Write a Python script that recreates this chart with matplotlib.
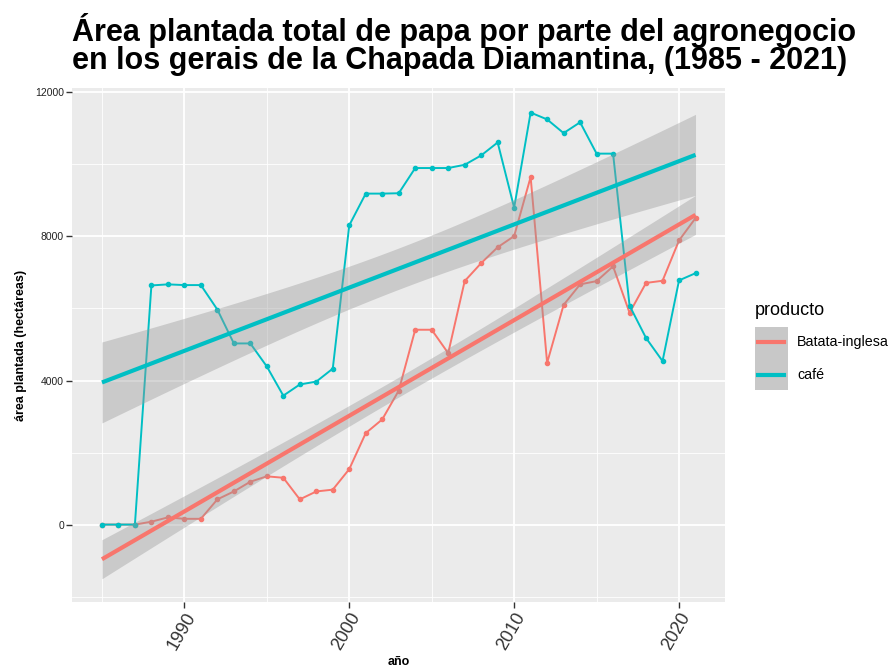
import numpy as np
import matplotlib
matplotlib.use("Agg")
import matplotlib.pyplot as plt
from matplotlib.ticker import MultipleLocator

plt.rcParams["font.family"] = ["Liberation Sans", "DejaVu Sans"]

years = list(range(1985, 2022))

batata = [0, 0, 0, 80, 200, 160, 160, 700, 920, 1190,
          1340, 1300, 700, 920, 970, 1540, 2540, 2920, 3720, 5410,
          5410, 4760, 6760, 7260, 7700, 8010, 9650, 4490, 6100, 6670,
          6760, 7170, 5880, 6710, 6770, 7890, 8510]

cafe = [0, 0, 0, 6640, 6670, 6650, 6650, 5970, 5030, 5030,
        4390, 3580, 3890, 3970, 4330, 8310, 9190, 9190, 9200, 9900,
        9900, 9900, 9990, 10250, 10610, 8800, 11440, 11250, 10870, 11170,
        10300, 10300, 6080, 5180, 4540, 6780, 6980]

series = [("Batata-inglesa", batata, "#F8766D"), ("café", cafe, "#00BFC4")]

fig = plt.figure(figsize=(8.92, 6.70), dpi=100)
ax = fig.add_axes([0.081, 0.102, 0.732, 0.766])
ax.set_facecolor("#EBEBEB")

x = np.array(years, dtype=float)
xs = np.linspace(x.min(), x.max(), 80)
t_crit = 1.306  # t quantile for an 80% band, df = 35

for name, vals, col in series:
    ax.plot(years, vals, color=col, lw=1.4, marker="o", ms=3, zorder=3)

# lm smooth with confidence band (like geom_smooth(method = "lm"))
for name, vals, col in series:
    y = np.array(vals, dtype=float)
    b, a = np.polyfit(x, y, 1)
    res = y - (a + b * x)
    n = len(x)
    s = np.sqrt(np.sum(res ** 2) / (n - 2))
    se = s * np.sqrt(1 / n + (xs - x.mean()) ** 2 / np.sum((x - x.mean()) ** 2))
    yhat = a + b * xs
    ax.fill_between(xs, yhat - t_crit * se, yhat + t_crit * se,
                    color="#999999", alpha=0.4, lw=0, zorder=4)
    ax.plot(xs, yhat, color=col, lw=3, zorder=5, solid_capstyle="butt")

ax.set_xlim(1983.2, 2022.8)
ax.set_ylim(-2140, 12110)
ax.xaxis.set_major_locator(MultipleLocator(10))
ax.xaxis.set_minor_locator(MultipleLocator(5))
ax.yaxis.set_major_locator(MultipleLocator(4000))
ax.yaxis.set_minor_locator(MultipleLocator(2000))
ax.grid(which="major", color="white", lw=1.3, zorder=0)
ax.grid(which="minor", color="white", lw=0.6, zorder=0)
ax.set_axisbelow(True)
for sp in ax.spines.values():
    sp.set_visible(False)

ax.tick_params(which="major", length=4, width=1, color="#333333")
ax.tick_params(which="minor", length=0)
ax.tick_params(axis="y", labelsize=7.5, labelcolor="#222222", pad=2)
ax.tick_params(axis="x", labelsize=13, labelcolor="#333333", pad=2)
for lab in ax.get_xticklabels():
    lab.set_rotation(60)
    lab.set_ha("right")
    lab.set_va("top")
    lab.set_rotation_mode("anchor")

ax.set_xlabel("año", fontsize=9, fontweight="bold", labelpad=2)
ax.set_ylabel("área plantada (hectáreas)", fontsize=9, fontweight="bold", labelpad=6)

fig.text(0.081, 0.981, "Área plantada total de papa por parte del agronegocio\n"
         "en los gerais de la Chapada Diamantina, (1985 - 2021)",
         fontsize=22, fontweight="bold", ha="left", va="top", linespacing=0.92)

# legend
fig.text(0.846, 0.537, "producto", fontsize=13, ha="left", va="center")
fig.patches.append(plt.Rectangle((0.8464, 0.418), 0.037, 0.094,
                                 transform=fig.transFigure, color="#C8C8C8", lw=0))
key_y = [0.4896, 0.4403]
for (name, vals, col), ky in zip(series, key_y):
    fig.lines.append(plt.Line2D([0.8498, 0.8789], [ky, ky], transform=fig.transFigure,
                                color=col, lw=3))
    fig.text(0.8935, ky, name, fontsize=10.3, ha="left", va="center")

fig.savefig("out.png", dpi=100)
